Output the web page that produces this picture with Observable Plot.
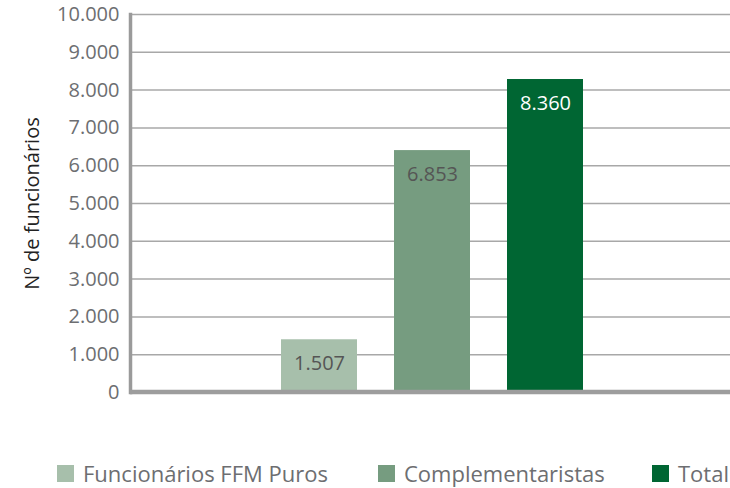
<!DOCTYPE html>
<html>
<head>
<meta charset="utf-8">
<script src="https://cdn.jsdelivr.net/npm/d3@7"></script>
<script src="https://cdn.jsdelivr.net/npm/@observablehq/plot@0.6"></script>
<style>
  body { margin: 0; background: #fff; font-family: "Open Sans", sans-serif; }
  #wrap { position: relative; width: 730px; height: 488px; overflow: hidden; }
  #legend { position: absolute; left: 0; top: 458px; width: 730px; height: 31px; font-size: 22px; color: #6d6e71; white-space: nowrap; }
  #legend .sw { position: absolute; top: 7px; width: 17px; height: 17px; }
  #legend .tx { position: absolute; top: 0; line-height: 31px; }
</style>
</head>
<body>
<div id="wrap">
  <div id="chart"></div>
  <div id="legend"></div>
</div>
<script>
const series = ["Funcionários FFM Puros", "Complementaristas", "Total"];
const barHeights = [1395, 6400, 8280];
const valueLabels = ["1.507", "6.853", "8.360"];
const colors = ["#a7bfab", "#769c80", "#006633"];
const labelColors = ["#555555", "#555555", "#ffffff"];
const yTicks = [0, 1000, 2000, 3000, 4000, 5000, 6000, 7000, 8000, 9000, 10000];
const yLabel = "Nº de funcionários";

const data = series.map((s, i) => ({series: s, height: barHeights[i], label: valueLabels[i], lc: labelColors[i]}));
const fmt = d3.formatLocale({thousands: ".", decimal: ",", grouping: [3], currency: ["", ""]}).format(",");

const chart = Plot.plot({
  width: 730,
  height: 430,
  marginLeft: 130,
  marginRight: 0,
  marginTop: 14,
  marginBottom: 38,
  style: {fontFamily: "Open Sans, sans-serif", background: "#fff"},
  x: {domain: series, paddingInner: 0.33, paddingOuter: 1.31, align: 0.507, axis: null},
  y: {domain: [0, 10000], axis: null},
  color: {domain: series, range: colors},
  marks: [
    Plot.gridY(yTicks.filter(d => d > 0), {stroke: "#a8a8a8", strokeOpacity: 1, strokeWidth: 1.5}),
    Plot.barY(data, {x: "series", y: "height", fill: "series"}),
    Plot.text(data, {x: "series", y: "height", text: "label", fill: "lc", dy: 24, fontSize: 20}),
    Plot.axisY(yTicks, {tickSize: 0, tickPadding: 11, tickFormat: fmt, fontSize: 20, fill: "#6d6e71", label: null}),
    Plot.text([yLabel], {frameAnchor: "left", textAnchor: "middle", rotate: -90, dx: -98, fontSize: 20, fill: "#222"}),
    Plot.frame({anchor: "left", stroke: "#9a9a9a", strokeWidth: 3.5}),
    Plot.ruleY([0], {stroke: "#9d9d9d", strokeWidth: 4.5, dy: -0.5})
  ]
});
document.getElementById("chart").appendChild(chart);

const legend = document.getElementById("legend");
const swatchX = [57, 378, 652];
series.forEach((s, i) => {
  const sw = document.createElement("span");
  sw.className = "sw";
  sw.style.left = swatchX[i] + "px";
  sw.style.background = colors[i];
  const tx = document.createElement("span");
  tx.className = "tx";
  tx.style.left = (swatchX[i] + 26) + "px";
  tx.textContent = s;
  legend.appendChild(sw);
  legend.appendChild(tx);
});
</script>
</body>
</html>
